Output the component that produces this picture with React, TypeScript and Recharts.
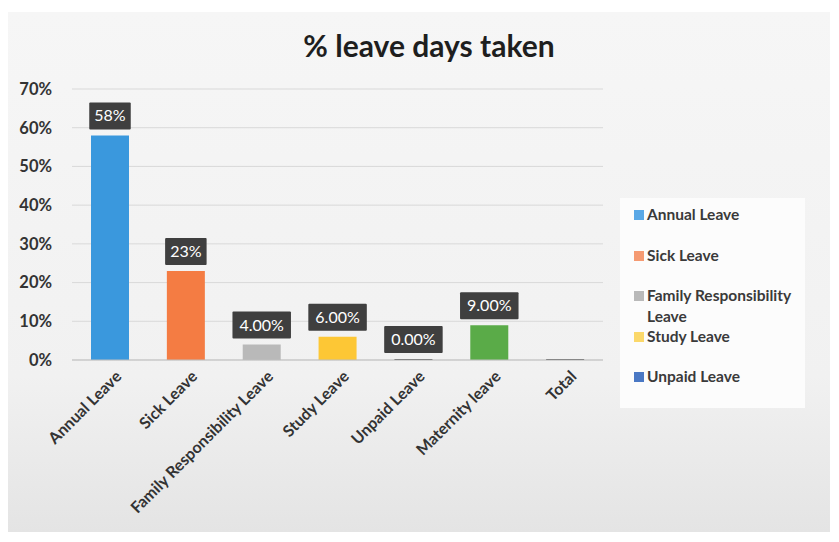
import { BarChart, Bar, XAxis, YAxis, CartesianGrid, Cell, LabelList, Legend } from 'recharts';

const categories = [
  'Annual Leave',
  'Sick Leave',
  'Family Responsibility Leave',
  'Study Leave',
  'Unpaid Leave',
  'Maternity leave',
  'Total',
];
const percentTaken = [58, 23, 4, 6, 0, 9, 0];
const valueLabels = ['58%', '23%', '4.00%', '6.00%', '0.00%', '9.00%', ''];
const barColors = ['#3a98dd', '#f47c43', '#b9b9b9', '#fdc735', '#4a4a4a', '#5aab48', '#505050'];
const yTicks = [0, 10, 20, 30, 40, 50, 60, 70];

const legendNames = ['Annual Leave', 'Sick Leave', 'Family Responsibility Leave', 'Study Leave', 'Unpaid Leave'];
const legendColors = ['#5aa8e6', '#f59a72', '#b9b9b9', '#fbd86a', '#4a78c4'];

const data = categories.map((name, i) => ({ name, value: percentTaken[i], label: valueLabels[i] }));

const FONT = 'Lato, "Open Sans", sans-serif';

function XTick(props: any) {
  const { x, y, payload } = props;
  return (
    <g transform={`translate(${x + 9},${y + 6})`}>
      <text
        transform="rotate(-45)"
        textAnchor="end"
        fontFamily={FONT}
        fontSize={16}
        fontWeight={700}
        fill="#333333"
        dy={5}
      >
        {payload.value}
      </text>
    </g>
  );
}

function ValueBox(props: any) {
  const { x, y, width, value } = props;
  if (!value) return null;
  const w = value.length * 8.5 + 16;
  const h = 27;
  const cx = x + width / 2;
  const top = y - 6 - h;
  return (
    <g>
      <rect x={cx - w / 2} y={top} width={w} height={h} fill="#3f3f3f" rx={1} />
      <text
        x={cx}
        y={top + h / 2 + 5.5}
        textAnchor="middle"
        fontFamily={FONT}
        fontSize={16}
        fill="#ffffff"
      >
        {value}
      </text>
    </g>
  );
}

function LegendBox() {
  return (
    <div style={{ fontFamily: FONT, fontSize: 15.5, fontWeight: 700, color: '#3a3a3a', padding: '6px 0 0 14px' }}>
      {legendNames.map((n, i) => (
        <div key={n} style={{ display: 'flex', alignItems: 'flex-start', height: 40.5 }}>
          <span
            style={{
              width: 10,
              height: 10,
              background: legendColors[i],
              marginTop: 6,
              marginRight: 3,
              flex: 'none',
            }}
          />
          <span style={{ width: 160, lineHeight: '21px' }}>{n}</span>
        </div>
      ))}
    </div>
  );
}

export default function App() {
  return (
    <div style={{ position: 'absolute', left: 0, top: 0, width: 839, height: 542, background: '#ffffff' }}>
      <div
        style={{
          position: 'absolute',
          left: 8,
          top: 12,
          width: 822,
          height: 520,
          background: 'linear-gradient(#f6f6f6, #f1f1f1 70%, #e4e4e4)',
        }}
      />
      <div
        style={{
          position: 'absolute',
          left: 0,
          top: 27,
          width: 858,
          textAlign: 'center',
          fontFamily: FONT,
          fontWeight: 700,
          fontSize: 30,
          color: '#1e1e1e',
        }}
      >
        % leave days taken
      </div>
      <div style={{ position: 'absolute', left: 0, top: 0 }}>
        <BarChart
          width={839}
          height={542}
          data={data}
          margin={{ top: 89, right: 236, bottom: 82, left: 0 }}
        >
          <CartesianGrid vertical={false} stroke="#d9d9d9" />
          <XAxis
            dataKey="name"
            interval={0}
            height={100}
            tickLine={false}
            axisLine={{ stroke: '#bfbfbf' }}
            tick={<XTick />}
          />
          <YAxis
            width={72}
            domain={[0, 70]}
            ticks={yTicks}
            tickFormatter={(v: number) => `${v}%`}
            axisLine={false}
            tickLine={false}
            tickMargin={14}
            tick={{ fontFamily: FONT, fontSize: 16.5, fontWeight: 700, fill: '#333333' }}
          />
          <Legend
            layout="horizontal"
            verticalAlign="middle"
            align="center"
            width={185}
            height={210}
            wrapperStyle={{ left: 620, top: 198, background: '#fcfcfc' }}
            content={() => <LegendBox />}
          />
          <Bar dataKey="value" barSize={38} minPointSize={1} isAnimationActive={false}>
            {data.map((d, i) => (
              <Cell key={d.name} fill={barColors[i]} />
            ))}
            <LabelList dataKey="label" content={<ValueBox />} />
          </Bar>
        </BarChart>
      </div>
    </div>
  );
}
